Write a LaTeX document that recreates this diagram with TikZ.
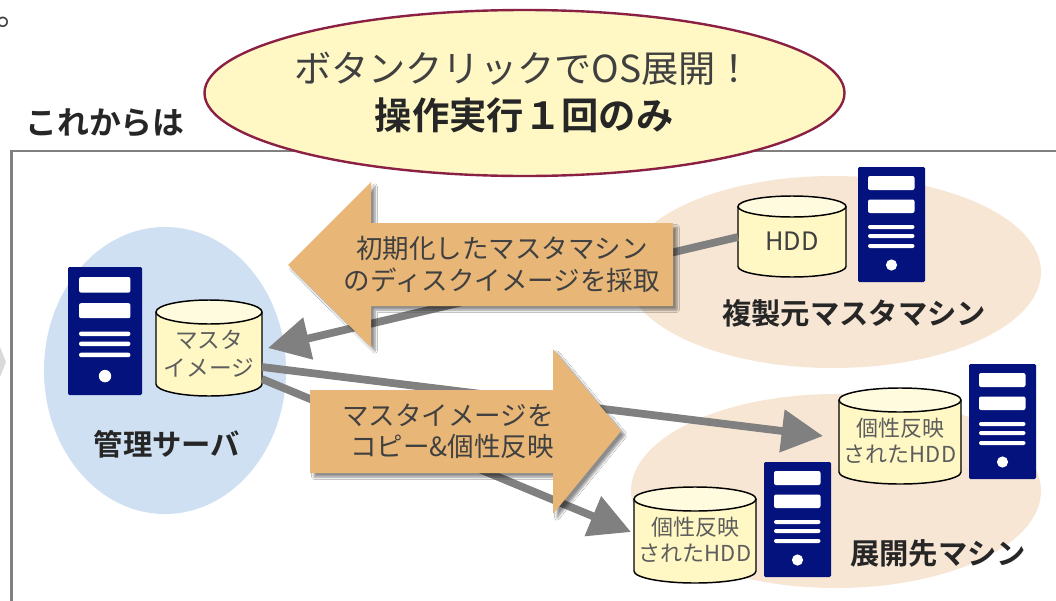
\documentclass[tikz,border=0pt]{standalone}
\usepackage{fontspec}
\newfontfamily\jp{Noto Sans CJK JP}
\newfontfamily\jpb{Noto Sans CJK JP}[FakeBold=0,BoldFont={Noto Sans CJK JP Bold}]
\usetikzlibrary{arrows.meta,shapes.geometric,shadows.blur}
\definecolor{framegray}{HTML}{808080}
\definecolor{navy}{HTML}{03127C}
\definecolor{peach}{HTML}{F7E6D4}
\definecolor{sky}{HTML}{CFE0F3}
\definecolor{orangeb}{HTML}{E8B778}
\definecolor{creamb}{HTML}{FFF8C4}
\definecolor{creamt}{HTML}{FFFBDE}
\definecolor{wine}{HTML}{8A2044}
\definecolor{ink}{HTML}{404040}
\definecolor{darkink}{HTML}{262626}
\tikzset{
  px/.style={x=.75pt,y=-.75pt},
  graylink/.style={draw=framegray,line width=5.8pt,-{Triangle[length=31pt,width=31pt]}},
  bigarrow/.style={fill=orangeb,blur shadow={shadow xshift=3pt,shadow yshift=-3pt,shadow blur steps=6,shadow opacity=45}},
  arrowtext/.style={inner sep=0pt,text=ink,font=\jp\fontsize{19.9}{23.5}\selectfont},
  title/.style={inner sep=0pt,text=darkink,font=\bfseries\jpb\fontsize{22}{26}\selectfont},
  cyltext/.style={inner sep=0pt,text=#1,align=center,font=\jp\fontsize{16.5}{19.5}\selectfont},
  cyltext/.default={ink!85!white},
}
\newcommand{\drawserver}[4]{%
  \begin{scope}[shift={(#1,#2)},xscale=#3,yscale=#4]
    \fill[navy,rounded corners=1pt] (0,0) rectangle (67,115);
    \fill[white,rounded corners=1.5pt] (10,9) rectangle (56.5,23);
    \fill[white,rounded corners=1.5pt] (10,32.5) rectangle (56.5,46);
    \fill[white,rounded corners=1.5pt] (10,58) rectangle (56.5,62);
    \fill[white,rounded corners=1.5pt] (10,67) rectangle (56.5,71);
    \fill[white,rounded corners=1.5pt] (10,77) rectangle (56.5,81);
    \fill[white] (33.5,98) ellipse (5.6 and 5.6);
  \end{scope}}
\newcommand{\drawcyl}[5]{% x left, x right, y top-ellipse centre, y bottom-arc centre, ry
  \fill[creamb] (#1,#3) -- (#1,#4) arc[start angle=180,end angle=0,x radius={(#2-#1)/2},y radius=#5] -- (#2,#3) -- cycle;
  \fill[creamt] ({(#1+#2)/2},#3) ellipse ({(#2-#1)/2} and #5);
  \draw[black,line width=1.1pt] (#1,#3) -- (#1,#4) arc[start angle=180,end angle=0,x radius={(#2-#1)/2},y radius=#5] -- (#2,#3);
  \draw[black,line width=1.1pt] ({(#1+#2)/2},#3) ellipse ({(#2-#1)/2} and #5);}
\begin{document}
\begin{tikzpicture}[px]
\clip (0,0) rectangle (1056,600);
\fill[white] (0,0) rectangle (1056,600);
\node[inner sep=0pt,anchor=west,text=ink,font=\jp\fontsize{26}{30}\selectfont] (maru) at (-3.5,22.5) {。};
\draw[framegray,line width=1.6pt] (1070,151) -- (11.5,151) -- (11.5,620);
\fill[gray!30] (0,347) -- (6,362) -- (0,377) -- cycle;
\node[title,font=\jpb\bfseries\fontsize{23.9}{28}\selectfont,anchor=center] (kore) at (105,123) {これからは};
% zones
\fill[sky] (165,370.5) ellipse (121 and 143.5);
\fill[peach] (833,272) ellipse (208 and 96);
\fill[peach] (836,491) ellipse (205 and 97);
% servers
\drawserver{68}{267}{1.105}{1.113}
\drawserver{858}{167}{1}{1}
\drawserver{969}{364}{1}{1}
\drawserver{764}{462}{1}{1}
% disks
\drawcyl{156}{262}{312}{384}{12}
\drawcyl{738}{846}{206.5}{266.5}{10.5}
\drawcyl{839}{961}{400}{472}{12}
\drawcyl{634}{756}{499}{571}{12}
\node[cyltext,font=\jp\fontsize{17}{21.5}\selectfont] (master) at (209,353.5) {マスタ\\イメージ};
\node[cyltext=ink,font=\jp\fontsize{19}{22}\selectfont] (hddsrc) at (792,241) {HDD};
\node[cyltext] (hddup) at (900,441) {個性反映\\されたHDD};
\node[cyltext] (hddlow) at (695,539.5) {個性反映\\されたHDD};
% connector ends
\coordinate (srcOut) at (738,237);
\coordinate (mIn) at (268,348);
\coordinate (mOutA) at (262,367);
\coordinate (mOutB) at (262,379);
\coordinate (upIn) at (823,436);
\coordinate (lowIn) at (631,532);
\draw[graylink] (srcOut) -- (mIn);
\draw[graylink] (mOutA) -- (upIn);
\draw[graylink] (mOutB) -- (lowIn);
% big arrows
\path[bigarrow] (288,265) -- (371,182) -- (371,223) -- (673,223) -- (673,306) -- (371,306) -- (371,347) -- cycle;
\path[bigarrow] (310,390) -- (553,390) -- (553,349) -- (621,431) -- (553,514) -- (553,473) -- (310,473) -- cycle;
\node[arrowtext,align=center] (coll) at (502,264.5) {初期化したマスタマシン\\のディスクイメージを採取};
\node[arrowtext,align=right] (copy) at (448,431.5) {マスタイメージを\\コピー\&個性反映};
% headline
\node[ellipse,draw=wine,line width=1.8pt,fill=creamb,minimum width=480pt,minimum height=124.5pt,inner sep=0pt] (head) at (524.5,93) {};
\node[inner sep=0pt,text=ink,font=\jp\fontsize{27.9}{33}\selectfont] (headA) at (523.5,69) {ボタンクリックでOS展開！};
\node[inner sep=0pt,text=darkink,font=\jpb\bfseries\fontsize{28}{33}\selectfont] (headB) at (524,115) {操作実行１回のみ};
% titles
\node[title] (admin) at (167,444) {管理サーバ};
\node[title] (srcname) at (854,313) {複製元マスタマシン};
\node[title] (dstname) at (938,553) {展開先マシン};
\end{tikzpicture}
\end{document}
